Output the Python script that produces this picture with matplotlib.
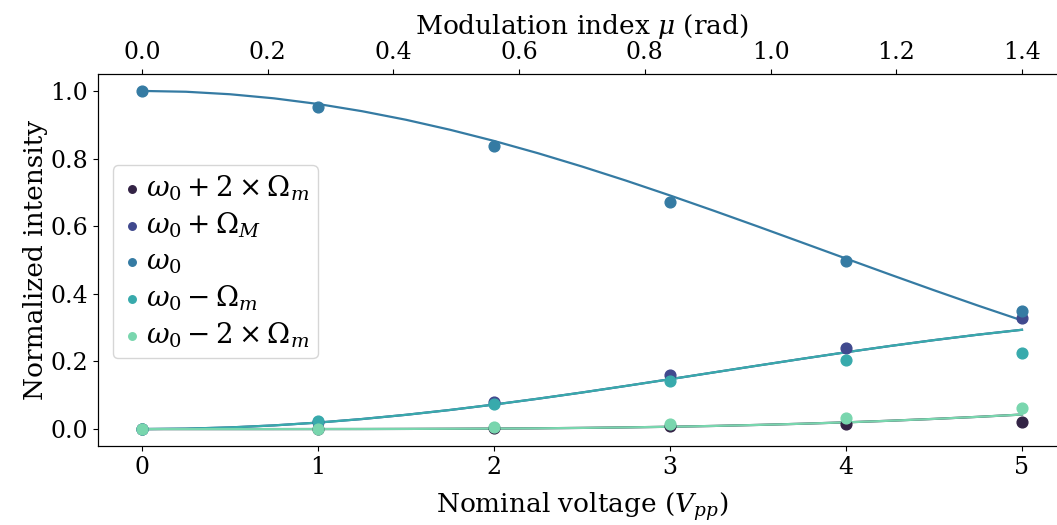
import matplotlib
matplotlib.use('Agg')
import matplotlib.pyplot as plt
import seaborn as sns

# measured peak intensities (normalized) vs nominal voltage
voltage = [0, 1, 2, 3, 4, 5]
plus2 = [0.0, 0.0, 0.002, 0.008, 0.015, 0.022]
plus1 = [0.0, 0.022, 0.080, 0.160, 0.239, 0.328]
carrier = [1.0, 0.953, 0.837, 0.672, 0.497, 0.350]
minus1 = [0.0, 0.025, 0.073, 0.143, 0.205, 0.226]
minus2 = [0.0, 0.0, 0.005, 0.015, 0.033, 0.063]

# theory curves
v_fit = [0, 0.25, 0.5, 0.75, 1, 1.25, 1.5, 1.75, 2, 2.25, 2.5, 2.75, 3, 3.25,
         3.5, 3.75, 4, 4.25, 4.5, 4.75, 5]
fit0 = [1.0, 0.9976, 0.9902, 0.9781, 0.9614, 0.9401, 0.9147, 0.8852, 0.8522,
        0.8158, 0.7765, 0.7348, 0.6909, 0.6455, 0.5990, 0.5517, 0.5043, 0.4571,
        0.4106, 0.3652, 0.3213]
fit1 = [0.0, 0.0012, 0.0049, 0.0109, 0.0192, 0.0297, 0.0422, 0.0565, 0.0725,
        0.0898, 0.1082, 0.1276, 0.1475, 0.1677, 0.1879, 0.2078, 0.2272, 0.2457,
        0.2631, 0.2792, 0.2937]
fit2 = [0.0, 0.0, 0.0, 0.0, 0.0001, 0.0002, 0.0005, 0.0009, 0.0015, 0.0023,
        0.0035, 0.0050, 0.0069, 0.0093, 0.0123, 0.0158, 0.0199, 0.0247, 0.0301,
        0.0362, 0.0430]

labels = [r'$\omega_0 + 2\times\Omega_m$', r'$\omega_0 + \Omega_M$', r'$\omega_0$',
          r'$\omega_0 - \Omega_m$', r'$\omega_0 - 2\times\Omega_m$']
series = [plus2, plus1, carrier, minus1, minus2]
fits = [fit2, fit1, fit0, fit1, fit2]

plt.rcParams['font.family'] = ['DejaVu Serif']
plt.rcParams['mathtext.fontset'] = 'dejavuserif'
plt.rcParams['font.size'] = 17

colors = sns.color_palette('mako', 5)

fig = plt.figure(figsize=(10.57, 5.25), dpi=100)
ax = fig.add_axes([0.0927, 0.1505, 0.9158, 0.7085])

for y, f, c, lab in zip(series, fits, colors, labels):
    ax.scatter(voltage, y, color=c, s=60, label=lab, zorder=3)
    ax.plot(v_fit, f, color=c, lw=1.6)

ax.set_xlim(-0.25, 5.25)
ax.set_ylim(-0.05, 1.05)
ax.set_xlabel(r'Nominal voltage ($V_{pp}$)', fontsize=19, labelpad=8)
ax.set_ylabel('Normalized intensity', fontsize=19, labelpad=2)
ax.spines['right'].set_visible(False)

ax2 = ax.twiny()
ax2.set_xlim(-0.25 * 0.28, 5.25 * 0.28)
ax2.set_xlabel(r'Modulation index $\mu$ (rad)', fontsize=19, labelpad=5)
ax2.spines['right'].set_visible(False)

ax.legend(loc='upper left', bbox_to_anchor=(0.015, 0.755), borderaxespad=0,
          markerscale=0.7, handletextpad=0.1, handlelength=0.8,
          borderpad=0.3, labelspacing=0.28, fontsize=20)

fig.savefig('out.png', dpi=100)
